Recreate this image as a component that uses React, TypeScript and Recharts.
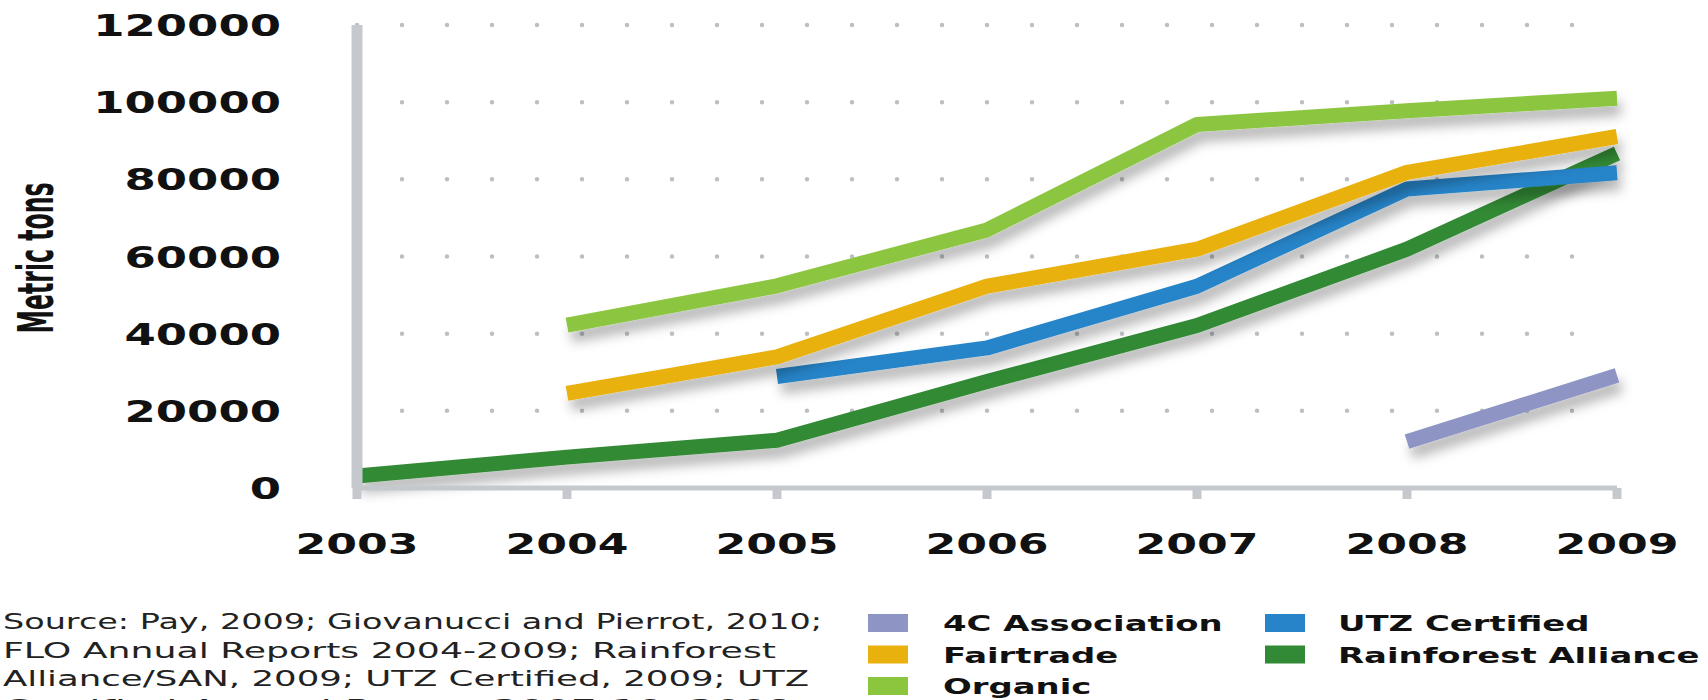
import { LineChart, Line, XAxis, YAxis, CartesianGrid } from "recharts";

const years = [2003, 2004, 2005, 2006, 2007, 2008, 2009];
const rainforest = [3100, 8000, 12400, 27600, 42100, 61900, 86700];
const utz = [null, null, 28900, 36300, 52300, 77500, 81700];
const fairtrade = [null, 24500, 34000, 52300, 61900, 81800, 91100];
const organic = [null, 42200, 52400, 66900, 94200, 97800, 101000];
const fourC = [null, null, null, null, null, 12000, 29200];
const yTicks = [0, 20000, 40000, 60000, 80000, 100000, 120000];

const sourceLines = [
  "Source: Pay, 2009; Giovanucci and Pierrot, 2010;",
  "FLO Annual Reports 2004-2009; Rainforest",
  "Alliance/SAN, 2009; UTZ Certified, 2009; UTZ",
  "Certified Annual Report 2007-10, 2009",
];

// draw order = stacking order in the picture (rainforest at the bottom)
const series = [
  { key: "rainforest", name: "Rainforest Alliance", color: "#338a36", values: rainforest },
  { key: "utz", name: "UTZ Certified", color: "#2784c8", values: utz },
  { key: "fairtrade", name: "Fairtrade", color: "#e9b10e", values: fairtrade },
  { key: "organic", name: "Organic", color: "#8cc63f", values: organic },
  { key: "fourC", name: "4C Association", color: "#8e94c4", values: fourC },
];
const legendOrder = ["fourC", "fairtrade", "organic", "utz", "rainforest"];

const data = years.map((year, i) => {
  const row: Record<string, number | null> = { year };
  series.forEach((s) => {
    row[s.key] = s.values[i];
  });
  return row;
});

const AXIS = "#c5c9cd";
const FONT = "'DejaVu Sans', sans-serif";

function XTick({ x, y, payload }: any) {
  return (
    <text
      x={x}
      y={y + 53}
      textAnchor="middle"
      fontFamily={FONT}
      fontWeight="bold"
      fontSize={29}
      fill="#111"
      textLength={123}
      lengthAdjust="spacingAndGlyphs"
    >
      {payload.value}
    </text>
  );
}

function YTick({ x, y, payload }: any) {
  const label = String(payload.value);
  return (
    <text
      x={x}
      y={y + 11}
      textAnchor="end"
      fontFamily={FONT}
      fontWeight="bold"
      fontSize={30}
      fill="#111"
      textLength={31.3 * label.length}
      lengthAdjust="spacingAndGlyphs"
    >
      {label}
    </text>
  );
}

function GridDots(props: any) {
  const { x1, x2, y1, y2 } = props;
  return (
    <line
      x1={x1}
      x2={x2}
      y1={y1}
      y2={y2}
      stroke="#bcc0c4"
      strokeWidth={4.5}
      strokeLinecap="round"
      strokeDasharray="0 45"
    />
  );
}

export default function App() {
  const sourceWidths = [819, 773, 806, 790];
  return (
    <div
      style={{
        position: "fixed",
        left: 0,
        top: 0,
        width: 1708,
        height: 700,
        background: "#fff",
        overflow: "hidden",
      }}
    >
      <style>{`.recharts-line-curve { filter: url(#lineShadow); }`}</style>
      <LineChart
        width={1708}
        height={700}
        data={data}
        margin={{ top: 25, right: 91, bottom: 132, left: 0 }}
      >
        <CartesianGrid vertical={false} horizontal={GridDots} />
        <XAxis
          dataKey="year"
          type="number"
          domain={[2003, 2009]}
          ticks={years}
          height={80}
          axisLine={{ stroke: AXIS, strokeWidth: 5 }}
          tickLine={{ stroke: AXIS, strokeWidth: 9 }}
          tickSize={11}
          tickMargin={2}
          tick={<XTick />}
        />
        <YAxis
          domain={[0, 120000]}
          ticks={yTicks}
          width={357}
          axisLine={{ stroke: AXIS, strokeWidth: 11 }}
          tickLine={false}
          tickSize={0}
          tickMargin={76}
          tick={<YTick />}
        />
        {series.map((s) => (
          <Line
            key={s.key}
            dataKey={s.key}
            name={s.name}
            type="linear"
            stroke={s.color}
            strokeWidth={15}
            strokeLinecap="butt"
            strokeLinejoin="round"
            dot={false}
            activeDot={false}
            isAnimationActive={false}
          />
        ))}
      </LineChart>
      <svg
        width={1708}
        height={700}
        style={{ position: "absolute", left: 0, top: 0, pointerEvents: "none" }}
      >
        <defs>
          <filter
            id="lineShadow"
            filterUnits="userSpaceOnUse"
            x={0}
            y={0}
            width={1708}
            height={700}
          >
            <feDropShadow dx={4} dy={10} stdDeviation={6} floodColor="#000" floodOpacity={0.28} />
          </filter>
        </defs>
        <text
          transform="translate(53,258) rotate(-90)"
          textAnchor="middle"
          fontFamily={FONT}
          fontWeight="bold"
          fontSize={50}
          fill="#111"
          textLength={151}
          lengthAdjust="spacingAndGlyphs"
        >
          Metric tons
        </text>
        {sourceLines.map((line, i) => (
          <text
            key={i}
            x={3}
            y={629 + i * 28.5}
            fontFamily={FONT}
            fontSize={22}
            fill="#222"
            textLength={sourceWidths[i]}
            lengthAdjust="spacingAndGlyphs"
          >
            {line}
          </text>
        ))}
        {legendOrder.map((key, i) => {
          const s = series.find((d) => d.key === key)!;
          const col = i < 3 ? 0 : 1;
          const row = i % 3;
          const sx = col === 0 ? 868 : 1265;
          const tx = col === 0 ? 943 : 1338;
          const top = 614 + row * 31.5;
          return (
            <g key={key}>
              <rect x={sx} y={top} width={40} height={18} fill={s.color} />
              <g transform={`translate(${tx},${top + 17}) scale(1.54,1)`}>
                <text x={0} y={0} fontFamily={FONT} fontWeight="bold" fontSize={22} fill="#111">
                  {s.name}
                </text>
              </g>
            </g>
          );
        })}
      </svg>
    </div>
  );
}
